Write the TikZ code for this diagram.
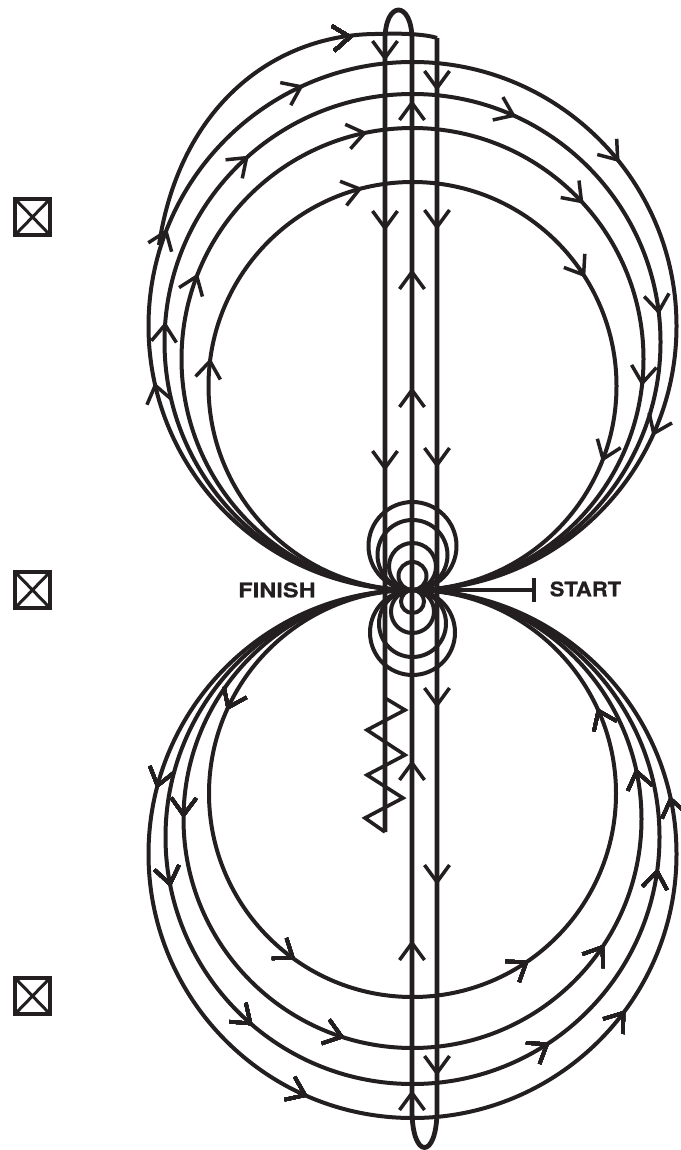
\documentclass[tikz,border=0pt]{standalone}
\usepackage{fontspec}
\usepackage{xcolor}
\setsansfont{TeX Gyre Heros}
\definecolor{inkblack}{HTML}{231F20}
\newcommand{\hubx}{412.5}
\newcommand{\huby}{590}
% chevron on an upper turn (clockwise), radius #1, angle #2
\newcommand{\uparc}[2]{\draw[tipline,shift={(\hubx,\huby-#1)},rotate=#2,shift={(#1 pt,0pt)}] (-12.5pt,17pt) -- (0pt,0pt) -- (12.5pt,17pt);}
% chevron on a lower turn (counter clockwise)
\newcommand{\lowarc}[2]{\draw[tipline,shift={(\hubx,\huby+#1)},rotate=#2,shift={(#1 pt,0pt)}] (-12.5pt,-17pt) -- (0pt,0pt) -- (12.5pt,-17pt);}
\begin{document}
\begin{tikzpicture}[x=1pt,y=-1pt]
\tikzstyle{wire}=[draw=inkblack,line width=4pt]
\tikzstyle{stem}=[draw=inkblack,line width=4.8pt]
\tikzstyle{tipline}=[draw=inkblack,line width=3.5pt,miter limit=4]
\tikzstyle{zigzag}=[draw=inkblack,line width=3.6pt,line join=miter]
\tikzstyle{tag}=[inkblack,font=\sffamily\bfseries\addfontfeature{FakeBold=0.7}\fontsize{20}{20}\selectfont,inner sep=0pt,transform shape]
\useasboundingbox (0,0) rectangle (680,1150);
\coordinate (hub) at (\hubx,\huby);
\coordinate (startbar) at (534,590);
\coordinate (corner) at (437,38);
\coordinate (toptail) at (375,34);
\coordinate (merge) at (159,245);

% large turns
\foreach \rad in {204,231,248,264}
  \draw[wire] (\hubx,\huby-\rad) circle (\rad pt);
\foreach \rad in {203.5,229,247,264}
  \draw[wire] (\hubx,\huby+\rad) circle (\rad pt);
% small turns
\foreach \rad in {44,35,23.5,14}
  \draw[wire] (\hubx,\huby-\rad) circle (\rad pt);
\foreach \rad in {42.5,33.5,21.5,11.5}
  \draw[wire] (\hubx,\huby+\rad) circle (\rad pt);

% last turn into the right leg
\draw[wire] (merge) .. controls (180,105) and (275,35) .. (toptail) .. controls (400,33) and (425,34) .. (corner);
% legs
\draw[stem,line join=round] (corner) -- (437,1110) .. controls (437,1160) and (412,1160) .. (412,1110)
  -- (412,40) .. controls (412,0) and (385,0) .. (385,40) -- (385,832);
\draw[zigzag] (385,832) -- (365,818) -- (403,798) -- (367,775) -- (405,755) -- (367,730) -- (405,710) -- (385,698);

% start
\draw[stem] (hub) -- (startbar);
\draw[stem] (534,578) -- (534,602);
\node[tag,xscale=1.1] (startlabel) at (585.5,589) {START};
\node[tag,xscale=1.18] (finishlabel) at (277,590) {FINISH};

% arrows on the turns
\foreach \rad/\ang in {204/105,204/173,204/33,204/-21,
  231/102,231/159,231/43,231/-6,
  248/132,248/176,248/66,248/7,
  264/115,264/159,264/193,264/39,264/-24}
  \uparc{\rad}{\ang}
\foreach \rad/\ang in {203.5/155,203.5/234,203.5/-56,203.5/24,
  229/179,229/252,229/-34,229/12,
  247/191,247/229,247/-57,247/-8,
  264/165,264/246,264/-37,264/12}
  \lowarc{\rad}{\ang}
\draw[tipline,shift={(350,37)},rotate=-85] (-12.5pt,-17pt) -- (0pt,0pt) -- (12.5pt,-17pt);

% arrows on the legs
\foreach \ypos in {58,228,468}
  \draw[tipline] (372.5,\ypos-17) -- (385,\ypos) -- (397.5,\ypos-17);
\foreach \ypos in {103,272,390,763,943,1093}
  \draw[tipline] (399.5,\ypos+17) -- (412,\ypos) -- (424.5,\ypos+17);
\foreach \ypos in {88,227,465,705,882,1073}
  \draw[tipline] (424.5,\ypos-17) -- (437,\ypos) -- (449.5,\ypos-17);

% boxes
\foreach \ypos in {217,590,996}{
  \draw[stem] (15,\ypos-18) rectangle (50,\ypos+18);
  \draw[draw=inkblack,line width=3pt] (15,\ypos-18) -- (50,\ypos+18) (50,\ypos-18) -- (15,\ypos+18);
}
\end{tikzpicture}
\end{document}
